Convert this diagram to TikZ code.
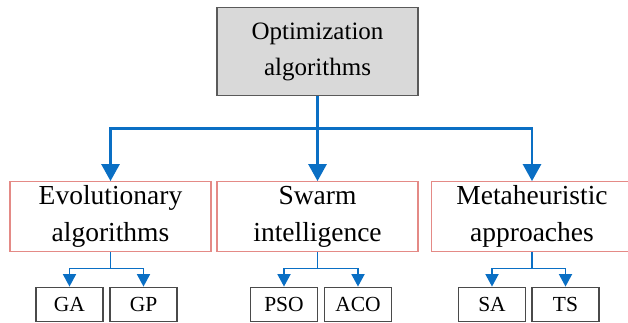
\documentclass[tikz,border=0pt]{standalone}
\usepackage{fontspec}
\setmainfont{Liberation Serif}
\usetikzlibrary{arrows.meta}
\definecolor{flowblue}{HTML}{0A6FC4}
\definecolor{midred}{HTML}{E48A86}
\definecolor{topgray}{HTML}{D9D9D9}
\definecolor{topedge}{HTML}{5A5A5A}
\definecolor{leafedge}{HTML}{4A4A4A}
\tikzset{
  topbox/.style={draw=topedge, fill=topgray, line width=1.2pt, inner sep=0pt,
    minimum width=201pt, minimum height=88.4pt, align=center,
    font=\fontsize{25}{36}\selectfont},
  midbox/.style={draw=midred, line width=1.2pt, inner sep=0pt,
    minimum width=201pt, minimum height=69.6pt, align=center,
    font=\fontsize{27.5}{37}\selectfont},
  leafbox/.style={draw=leafedge, line width=1.2pt, inner sep=0pt,
    minimum width=67pt, minimum height=34.6pt,
    font=\fontsize{21.5}{24}\selectfont},
  mainline/.style={draw=flowblue, line width=2.8pt},
  mainarr/.style={draw=flowblue, line width=2.8pt, -{Triangle[width=18pt,length=17pt,fill=flowblue]}},
  subline/.style={draw=flowblue, line width=1.8pt},
  subarr/.style={draw=flowblue, line width=1.8pt, -{Triangle[width=13pt,length=12.5pt,fill=flowblue]}},
}
\begin{document}
\begin{tikzpicture}[x=1pt,y=-1pt]
\useasboundingbox (0,0) rectangle (628,323);
\node[topbox] (top) at (317.5,51.5) {Optimization\\algorithms};
\node[midbox] (evo) at (110.5,216.5) {Evolutionary\\algorithms};
\node[midbox] (swa) at (317.5,216.5) {Swarm\\intelligence};
\node[midbox] (met) at (532,216.5) {Metaheuristic\\approaches};
\node[leafbox] (ga) at (69.5,304.5) {GA};
\node[leafbox] (gp) at (143.5,304.5) {GP};
\node[leafbox] (pso) at (284,304.5) {PSO};
\node[leafbox] (aco) at (358,304.5) {ACO};
\node[leafbox] (sa) at (492,304.5) {SA};
\node[leafbox] (ts) at (565.5,304.5) {TS};
\coordinate (j0) at (317.5,128.5);
\coordinate (j1) at (110.5,268.5);
\coordinate (j2) at (317.5,268.5);
\coordinate (j3) at (532,268.5);
\draw[mainline] (top.south) -- (j0);
\draw[mainarr] (j0) -| (evo.north);
\draw[mainarr] (j0) -- (swa.north);
\draw[mainarr] (j0) -| (met.north);
\draw[subline] (evo.south) -- (j1);
\draw[subarr] (j1) -| (ga.north);
\draw[subarr] (j1) -| (gp.north);
\draw[subline] (swa.south) -- (j2);
\draw[subarr] (j2) -| (pso.north);
\draw[subarr] (j2) -| (aco.north);
\draw[subline] (met.south) -- (j3);
\draw[subarr] (j3) -| (sa.north);
\draw[subarr] (j3) -| (ts.north);
\end{tikzpicture}
\end{document}
